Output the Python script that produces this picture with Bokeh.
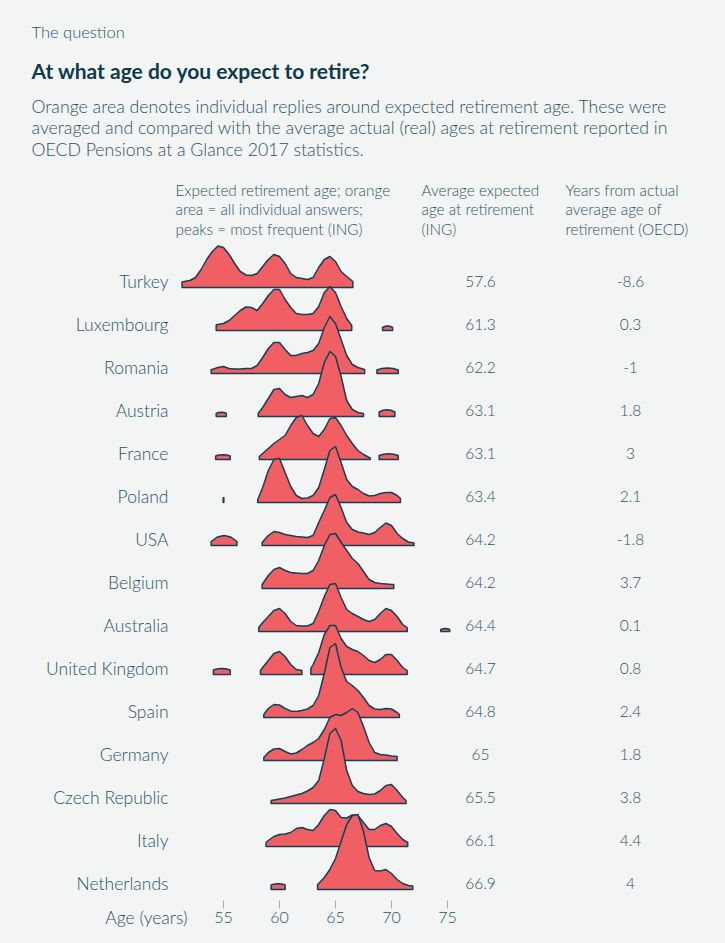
from bokeh.plotting import figure
from bokeh.models import Range1d, Label, ColumnDataSource
from bokeh.core.properties import value
from bokeh.embed import file_html
from bokeh.resources import INLINE

# ---------------- data ----------------
COUNTRIES = ["Turkey", "Luxembourg", "Romania", "Austria", "France", "Poland", "USA",
             "Belgium", "Australia", "United Kingdom", "Spain", "Germany",
             "Czech Republic", "Italy", "Netherlands"]
AVG_EXPECTED = [57.6, 61.3, 62.2, 63.1, 63.1, 63.4, 64.2, 64.2, 64.4, 64.7, 64.8, 65, 65.5, 66.1, 66.9]
YEARS_FROM_ACTUAL = [-8.6, 0.3, -1, 1.8, 3, 2.1, -1.8, 3.7, 0.1, 0.8, 2.4, 1.8, 3.8, 4.4, 4]
AXIS_TICKS = [55, 60, 65, 70, 75]

# density of individual answers (relative units), None separates pieces
TURKEY_AGES = [51.3, 51.5, 52, 52.5, 53, 53.5, 54, 54.5, 55, 55.5, 56, 56.5, 57, 57.5, 58, 58.5, 59,
               59.5, 60, 60.5, 61, 61.5, 62, 62.5, 63, 63.5, 64, 64.5, 65, 65.5, 66, 66.55]
TURKEY_DENS = [5.5, 6, 7, 10, 18, 28, 36, 41.5, 40, 33, 24, 16, 12.5, 12, 14, 21, 28,
               33, 31, 24, 14, 10, 9, 8, 10, 20, 28, 31, 26, 16, 11, 6]

LUXEMBOURG_AGES = [54.35, 54.5, 55, 55.5, 56, 56.5, 57, 57.5, 58, 58.5, 59, 59.5, 60, 60.5, 61, 61.5,
                   62, 62.5, 63, 63.5, 64, 64.5, 65, 65.5, 66, 66.45,
                   None, 69.2, 69.45, 69.65, 69.85, 70.1]
LUXEMBOURG_DENS = [5.5, 6, 7, 10, 15, 20, 23.5, 23, 20, 27, 35, 41, 41, 31, 23, 17,
                   16, 16, 17, 24, 38, 44, 38, 24, 12, 5,
                   None, 3, 4.2, 4.5, 4.2, 3]

ROMANIA_AGES = [53.9, 54, 54.5, 55, 55.5, 56, 56.5, 57, 57.5, 58, 58.5, 59, 59.5, 60, 60.5, 61, 61.5,
                62, 62.5, 63, 63.5, 64, 64.5, 65, 65.5, 66, 66.5, 67, 67.6,
                None, 68.7, 69.15, 69.65, 70.15, 70.6]
ROMANIA_DENS = [4, 4, 6, 7, 5, 4.5, 4.5, 5, 5, 8, 16, 25, 31, 31, 24, 18, 18,
                20, 21, 23, 30, 46, 57, 50, 34, 18, 9, 6, 4,
                None, 3.5, 5, 5.5, 5, 3.5]

AUSTRIA_AGES = [54.35, 54.55, 54.8, 55.05, 55.25,
                None, 58.1, 58.5, 59, 59.5, 60, 60.5, 61, 61.5, 62, 62.5, 63, 63.5, 64, 64.5, 65,
                65.5, 66, 66.5, 67, 67.5,
                None, 68.9, 69.25, 69.6, 69.95, 70.3]
AUSTRIA_DENS = [3, 4, 4.3, 4, 3,
                None, 3, 9, 18, 27, 28, 22, 19, 20, 21, 19, 22, 33, 54, 65, 60,
                40, 16, 7, 4, 3,
                None, 4.5, 6.2, 6.7, 6.2, 4.5]

FRANCE_AGES = [54.3, 54.6, 54.95, 55.3, 55.6,
               None, 58.2, 58.5, 59, 59.5, 60, 60.5, 61, 61.5, 62, 62.5, 63, 63.5, 64, 64.5, 65,
               65.5, 66, 66.5, 67, 67.5, 68, 68.1,
               None, 68.9, 69.3, 69.75, 70.2, 70.6]
FRANCE_DENS = [3.5, 4.5, 4.7, 4.5, 3.5,
               None, 3, 6, 11, 16, 20, 24, 34, 42, 44, 34, 26, 23, 30, 41, 42,
               34, 24, 16, 9, 5, 2, 1.5,
               None, 4, 5.3, 5.7, 5.3, 4]

POLAND_AGES = [54.97, 55.03,
               None, 58.06, 58.5, 59, 59.5, 60, 60.5, 61, 61.5, 62, 62.5, 63, 63.5, 64, 64.5, 65,
               65.5, 66, 66.5, 67, 67.5, 68, 68.5, 69, 69.5, 70, 70.5, 70.8]
POLAND_DENS = [4.7, 4.7,
               None, 3, 15, 32, 43, 44, 30, 16, 7, 4, 4.5, 7, 15, 33, 52, 56,
               40, 23, 16, 13, 9, 6.5, 7, 9, 10, 10, 7, 4]

USA_AGES = [53.9, 54.45, 55.05, 55.65, 56.2,
            None, 58.45, 59, 59.5, 60, 60.5, 61, 61.5, 62, 62.5, 63, 63.5, 64, 64.5, 65,
            65.5, 66, 66.5, 67, 67.5, 68, 68.5, 69, 69.5, 70, 70.5, 71, 71.5, 72]
USA_DENS = [4, 8.5, 10, 8.5, 4,
            None, 3, 10, 14, 13, 11, 10, 9, 8.5, 8, 10, 23, 35, 48, 51,
            38, 23, 16, 13.5, 12.5, 11, 13, 18, 22.5, 20, 12, 7, 3.5, 2.5]

BELGIUM_AGES = [58.45, 59, 59.5, 60, 60.5, 61, 61.5, 62, 62.5, 63, 63.5, 64, 64.5, 65,
                65.5, 66, 66.5, 67, 67.5, 68, 68.5, 69, 69.5, 70, 70.2]
BELGIUM_DENS = [4, 13, 19, 21, 18, 16, 15.5, 15, 15, 18, 28, 43, 54, 55,
                46, 38, 30, 25, 17, 9, 6, 5, 4.5, 4, 4]

AUSTRALIA_AGES = [58.15, 58.5, 59, 59.5, 60, 60.5, 61, 61.5, 62, 62.5, 63, 63.5, 64, 64.5, 65,
                  65.5, 66, 66.5, 67, 67.5, 68, 68.5, 69, 69.5, 70, 70.5, 71, 71.4,
                  None, 74.4, 74.6, 74.8, 75.0, 75.2]
AUSTRALIA_DENS = [4, 9, 15, 21, 23, 18, 10, 6, 5.5, 5.5, 8, 20, 35, 47, 48,
                  34, 22, 18, 15, 12, 10, 12, 18, 23, 21, 15, 7, 4,
                  None, 2, 2.8, 3, 2.8, 2]

UK_AGES = [54.1, 54.5, 54.85, 55.2, 55.6,
           None, 58.3, 58.5, 59, 59.5, 60, 60.5, 61, 61.5, 62,
           None, 62.8, 63, 63.5, 64, 64.5, 65, 65.5, 66, 66.5, 67, 67.5, 68, 68.5, 69, 69.5, 70,
           70.5, 71, 71.4]
UK_DENS = [4.5, 5.8, 6, 5.8, 4.5,
           None, 4, 7, 14, 21, 23, 18, 10, 5, 4,
           None, 6, 10, 22, 40, 49, 49, 36, 28, 25, 23, 19, 14, 12, 15, 20, 20,
           14, 7, 4]

SPAIN_AGES = [58.6, 59, 59.5, 60, 60.5, 61, 61.5, 62, 62.5, 63, 63.5, 64, 64.5, 65,
              65.5, 66, 66.5, 67, 67.5, 68, 68.5, 69, 69.5, 70, 70.5, 70.7]
SPAIN_DENS = [3, 9, 13, 12.5, 9, 6.5, 6, 7, 8.5, 12, 22, 44, 70, 74,
              50, 36, 32, 27, 20, 12, 8.5, 8, 9, 8.5, 5, 3]

GERMANY_AGES = [58.6, 59, 59.5, 60, 60.5, 61, 61.5, 62, 62.5, 63, 63.5, 64, 64.5, 65,
                65.5, 66, 66.5, 67, 67.5, 68, 68.5, 69, 69.5, 70, 70.5]
GERMANY_DENS = [3, 8, 11.5, 12, 9, 6.5, 7.5, 11, 15, 18, 22, 31, 43, 46,
                45, 48, 52, 48, 34, 18, 8, 6, 5.5, 4.5, 4]

CZECH_AGES = [59.25, 59.5, 60, 60.5, 61, 61.5, 62, 62.5, 63, 63.5, 64, 64.5, 65,
              65.5, 66, 66.5, 67, 67.5, 68, 68.5, 69, 69.5, 70, 70.5, 71, 71.3]
CZECH_DENS = [3, 3.5, 4.5, 5.5, 7, 8.5, 10, 12.5, 16, 23, 45, 70, 75,
              63, 33, 18, 12, 10, 9, 9.5, 13, 18, 19, 13, 6, 3]

ITALY_AGES = [58.8, 59, 59.5, 60, 60.5, 61, 61.5, 62, 62.5, 63, 63.5, 64, 64.5, 65,
              65.5, 66, 66.5, 67, 67.5, 68, 68.5, 69, 69.5, 70, 70.5, 71, 71.45]
ITALY_DENS = [4, 6, 10, 12, 12.5, 14, 18, 19, 17, 16, 22, 31, 37, 36,
              29, 28.5, 31.5, 31, 24, 17, 17, 21, 23, 20, 13, 7, 4]

NETHERLANDS_AGES = [59.25, 59.55, 59.9, 60.2, 60.5,
                    None, 63.4, 63.5, 64, 64.5, 65, 65.5, 66, 66.5, 67, 67.5, 68, 68.5, 69, 69.5,
                    70, 70.5, 71, 71.5, 71.9]
NETHERLANDS_DENS = [4.5, 5.5, 5.8, 5.5, 4.5,
                    None, 5, 6, 12, 20, 31, 48, 65, 74, 75, 58, 32, 19, 18.5, 20,
                    16, 10, 6, 4, 3.5]

ALL_AGES = [TURKEY_AGES, LUXEMBOURG_AGES, ROMANIA_AGES, AUSTRIA_AGES, FRANCE_AGES, POLAND_AGES,
            USA_AGES, BELGIUM_AGES, AUSTRALIA_AGES, UK_AGES, SPAIN_AGES, GERMANY_AGES,
            CZECH_AGES, ITALY_AGES, NETHERLANDS_AGES]
ALL_DENS = [TURKEY_DENS, LUXEMBOURG_DENS, ROMANIA_DENS, AUSTRIA_DENS, FRANCE_DENS, POLAND_DENS,
            USA_DENS, BELGIUM_DENS, AUSTRALIA_DENS, UK_DENS, SPAIN_DENS, GERMANY_DENS,
            CZECH_DENS, ITALY_DENS, NETHERLANDS_DENS]

# ---------------- style / geometry ----------------
BG = "#f3f5f4"
RED = "#f05f64"
NAVY = "#163f55"
TITLE_C = "#0f3a4c"
TEXT_C = "#2a5366"
TICK_C = "#9fb1b9"
FONT = "Lato"
FONT_LIGHT = "Lato Light"

W, H = 725, 935
PX_PER_YEAR = 11.2
ROW_PX = 43.0
N = len(COUNTRIES)
NL_BASELINE_PX = 889                      # page y of the last row's baseline
X_START = 55 - 223 / PX_PER_YEAR          # page x 223 <-> age 55
X_END = X_START + W / PX_PER_YEAR
Y_START = -(H - NL_BASELINE_PX) / ROW_PX
Y_END = Y_START + H / ROW_PX
DENS_SCALE = 1 / ROW_PX


def px2x(px):
    return X_START + px / PX_PER_YEAR


def py2y(py):
    return Y_END - py / ROW_PX


p = figure(width=W, height=H, x_range=Range1d(X_START, X_END), y_range=Range1d(Y_START, Y_END),
           output_backend="svg", toolbar_location=None, x_axis_type=None, y_axis_type=None,
           min_border=0)
p.background_fill_color = BG
p.border_fill_color = BG
p.outline_line_color = None
p.xgrid.visible = False
p.ygrid.visible = False

# ridgelines
xs, ys = [], []
for i in range(N):
    base = N - 1 - i
    ages, dens = ALL_AGES[i], ALL_DENS[i]
    seg_a, seg_d = [], []
    for a, d in list(zip(ages, dens)) + [(None, None)]:
        if a is None:
            if seg_a:
                xs.append([seg_a[0]] + seg_a + [seg_a[-1]])
                ys.append([base] + [base + v * DENS_SCALE for v in seg_d] + [base])
            seg_a, seg_d = [], []
        else:
            seg_a.append(a)
            seg_d.append(d)
p.patches(xs, ys, fill_color=RED, line_color=NAVY, line_width=1.5, line_join="round")

# row texts (vertically centred ~6px above each baseline)
TXT_OFF = 6 / ROW_PX
rows = ColumnDataSource(dict(
    country=COUNTRIES,
    y=[N - 1 - i + TXT_OFF for i in range(N)],
    avg=[f"{v:g}" for v in AVG_EXPECTED],
    diff=[f"{v:g}" for v in YEARS_FROM_ACTUAL],
    xl=[px2x(168)] * N,
    xa=[px2x(480)] * N,
    xd=[px2x(630)] * N,
))
p.text(x="xl", y="y", text="country", source=rows, text_align="right", text_baseline="middle",
       text_font=value(FONT_LIGHT), text_font_size="17.5px", text_color=TEXT_C)
p.text(x="xa", y="y", text="avg", source=rows, text_align="center", text_baseline="middle",
       text_font=value(FONT_LIGHT), text_font_size="15.5px", text_color=TEXT_C)
p.text(x="xd", y="y", text="diff", source=rows, text_align="center", text_baseline="middle",
       text_font=value(FONT_LIGHT), text_font_size="15.5px", text_color=TEXT_C)

# age axis (ticks + labels on the age scale)
p.segment(x0=AXIS_TICKS, x1=AXIS_TICKS, y0=[py2y(900)] * len(AXIS_TICKS),
          y1=[py2y(908)] * len(AXIS_TICKS), line_color=TICK_C, line_width=1)
p.text(x=AXIS_TICKS, y=[py2y(917)] * len(AXIS_TICKS), text=[str(t) for t in AXIS_TICKS],
       text_align="center", text_baseline="middle", text_font=value(FONT_LIGHT),
       text_font_size="16px", text_color=TEXT_C)


def label(text, px, py, size, color=TEXT_C, font=FONT_LIGHT, bold=False, align="left"):
    p.add_layout(Label(x=px, y=H - py, x_units="screen", y_units="screen",
                       text=text, text_font=font, text_font_size=size, text_color=color,
                       text_font_style="bold" if bold else "normal",
                       text_align=align, text_baseline="middle"))


label("The question", 31, 31.5, "16.5px")
label("At what age do you expect to retire?", 31, 70, "21px", color=TITLE_C, font=FONT, bold=True)
for k, line in enumerate([
        "Orange area denotes individual replies around expected retirement age. These were",
        "averaged and compared with the average actual (real) ages at retirement reported in",
        "OECD Pensions at a Glance 2017 statistics."]):
    label(line, 31, 106 + 21.3 * k, "17.7px")
for col_x, lines in [(175, ["Expected retirement age; orange", "area = all individual answers;",
                            "peaks = most frequent (ING)"]),
                     (421, ["Average expected", "age at retirement", "(ING)"]),
                     (565, ["Years from actual", "average age of", "retirement (OECD)"])]:
    for k, line in enumerate(lines):
        label(line, col_x, 189 + 19.5 * k, "15.3px")
label("Age (years)", 187, 917, "17.5px", align="right")

html = file_html(p, INLINE)
html = html.replace("</head>", "<style>body{background:%s;}</style></head>" % BG, 1)
open("out.html", "w").write(html)
